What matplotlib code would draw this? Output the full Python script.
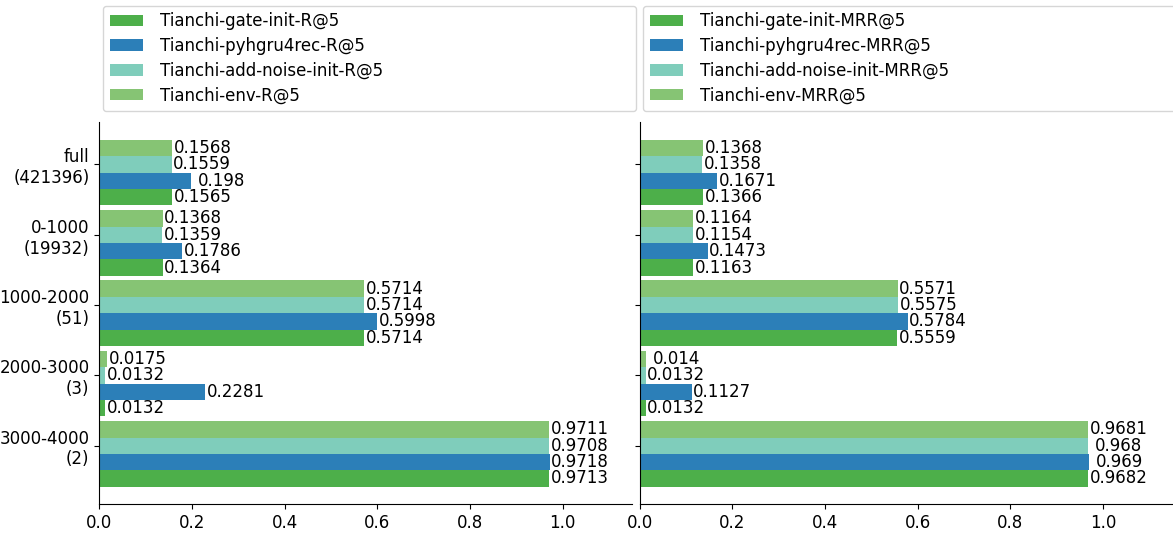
import numpy as np
import matplotlib
matplotlib.use("Agg")
import matplotlib.pyplot as plt

plt.rcParams['font.size'] = 12

groups = ['full\n(421396)', '0-1000\n(19932)', '1000-2000\n(51)', '2000-3000\n(3)', '3000-4000\n(2)']

# R@5
gate_r = [0.1565, 0.1364, 0.5714, 0.0132, 0.9713]
gru_r = [0.198, 0.1786, 0.5998, 0.2281, 0.9718]
noise_r = [0.1559, 0.1359, 0.5714, 0.0132, 0.9708]
env_r = [0.1568, 0.1368, 0.5714, 0.0175, 0.9711]

# MRR@5
gate_m = [0.1366, 0.1163, 0.5559, 0.0132, 0.9682]
gru_m = [0.1671, 0.1473, 0.5784, 0.1127, 0.969]
noise_m = [0.1358, 0.1154, 0.5575, 0.0132, 0.968]
env_m = [0.1368, 0.1164, 0.5571, 0.014, 0.9681]

colors = ['#4daf4a', '#2c7fb8', '#7fcdbb', '#86c474']
h = 0.233
offsets = [2 * h, h, 0, -h]


def draw(ax, series, names):
    y = np.arange(len(groups))
    for vals, name, c, off in zip(series, names, colors, offsets):
        ax.barh(y + off, vals, height=h, color=c, label=name)
        for yy, v in zip(y + off, vals):
            ax.text(v + 0.066, yy, str(v), ha='center', va='center')
    ax.set_yticks(y)
    ax.set_xlim(0, 1.15)
    ax.spines['top'].set_visible(False)
    ax.spines['right'].set_visible(False)


fig = plt.figure(figsize=(11.73, 5.34), dpi=100)
ax1 = fig.add_axes([99.3 / 1173, 30 / 534, 533 / 1173, 381.5 / 534])
ax2 = fig.add_axes([639.5 / 1173, 30 / 534, 533 / 1173, 381.5 / 534], sharey=ax1)

draw(ax1, [gate_r, gru_r, noise_r, env_r],
     ['Tianchi-gate-init-R@5', 'Tianchi-pyhgru4rec-R@5',
      'Tianchi-add-noise-init-R@5', 'Tianchi-env-R@5'])
draw(ax2, [gate_m, gru_m, noise_m, env_m],
     ['Tianchi-gate-init-MRR@5', 'Tianchi-pyhgru4rec-MRR@5',
      'Tianchi-add-noise-init-MRR@5', 'Tianchi-env-MRR@5'])
ax1.invert_yaxis()
ax1.set_yticklabels(groups)
ax2.tick_params(labelleft=False)

for ax, x0 in [(ax1, 103), (ax2, 643)]:
    ax.legend(loc='lower left', bbox_to_anchor=(x0 / 1173, 423 / 534, 533 / 1173, 0.1),
              bbox_transform=fig.transFigure, mode='expand', borderaxespad=0,
              labelspacing=0.4, handletextpad=1.0)

fig.savefig('out.png', dpi=100)
